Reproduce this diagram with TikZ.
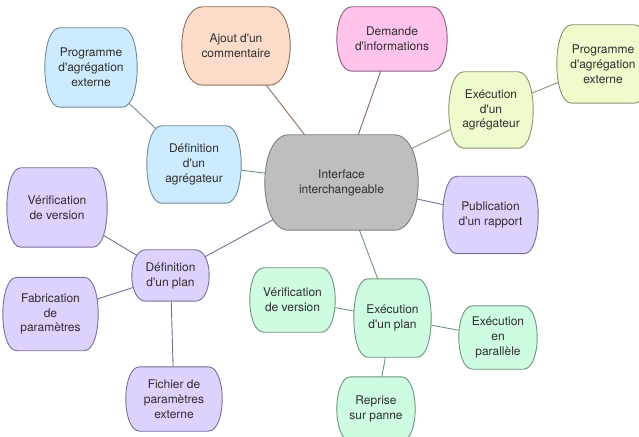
\documentclass[tikz,border=0pt]{standalone}
\usepackage{fontspec}
\setmainfont{TeX Gyre Heros}[Ligatures=TeXOff]
\usetikzlibrary{calc}

\definecolor{texte}{HTML}{2E2E2E}
\definecolor{grisFond}{HTML}{BEBEBE}
\definecolor{grisBord}{HTML}{7E7E7E}
\definecolor{pecheFond}{HTML}{FDDDC9}
\definecolor{pecheBord}{HTML}{8F6E5E}
\definecolor{roseFond}{HTML}{FFC3EC}
\definecolor{roseBord}{HTML}{8A5F7D}
\definecolor{bleuFond}{HTML}{CDEBFE}
\definecolor{bleuBord}{HTML}{6E8B9A}
\definecolor{citronFond}{HTML}{EEFBCD}
\definecolor{citronBord}{HTML}{8E9370}
\definecolor{violetFond}{HTML}{DDD1FE}
\definecolor{violetBord}{HTML}{76709A}
\definecolor{vertFond}{HTML}{CDFCE0}
\definecolor{vertBord}{HTML}{6E9580}

\pgfdeclarelayer{liens}
\pgfdeclarelayer{fond}
\pgfsetlayers{liens,fond,main}

\tikzset{
    % #1 fill, #2 border, #3 corner radius
    bulle/.style n args={3}{inner sep=0pt, align=center, text=texte,
        font=\fontsize{12}{15}\selectfont,
        append after command={\pgfextra{%
            \begin{pgfonlayer}{fond}
            \path[draw=#2, fill=#1, line width=0.9bp]
                ($(\tikzlastnode.north west)+(#3,0)$)
                -- ($(\tikzlastnode.north east)+(-#3,0)$)
                .. controls ($(\tikzlastnode.north east)+(#3/3,0)$)
                and ($(\tikzlastnode.south east)+(#3/3,0)$)
                .. ($(\tikzlastnode.south east)+(-#3,0)$)
                -- ($(\tikzlastnode.south west)+(#3,0)$)
                .. controls ($(\tikzlastnode.south west)+(-#3/3,0)$)
                and ($(\tikzlastnode.north west)+(-#3/3,0)$)
                .. ($(\tikzlastnode.north west)+(#3,0)$) -- cycle;
            \end{pgfonlayer}}}},
    gris/.style={bulle={grisFond}{grisBord}{24bp}},
    peche/.style={bulle={pecheFond}{pecheBord}{21bp}},
    rose/.style={bulle={roseFond}{roseBord}{15bp}},
    bleu/.style={bulle={bleuFond}{bleuBord}{15bp}},
    citron/.style={bulle={citronFond}{citronBord}{15bp}},
    violet/.style={bulle={violetFond}{violetBord}{14bp}},
    vert/.style={bulle={vertFond}{vertBord}{14bp}},
    lien/.style={line width=0.9bp}
}

\begin{document}
\begin{tikzpicture}[x=1bp,y=-1bp]
    \useasboundingbox (0,0) rectangle (639,437);

    % The centre node
    \node[gris, minimum width=153bp, minimum height=95bp] (inter) at (341.5,182.5)
        {Interface\\interchangeable};

    % The nodes at the top
    \node[peche, minimum width=108bp, minimum height=78bp] (ajout) at (236,46)
        {Ajout d'un\\commentaire};
    \node[rose, minimum width=110bp, minimum height=64bp] (demande) at (392,39)
        {Demande\\d'informations};

    % The aggregators
    \node[bleu, minimum width=94bp, minimum height=77bp] (defAgr) at (194,164.5)
        {Définition\\d'un\\agrégateur};
    \node[bleu, minimum width=92bp, minimum height=79bp] (progG) at (91,67.5)
        {Programme\\d'agrégation\\externe};
    \node[citron, minimum width=84bp, minimum height=76bp] (execAgr) at (491,110)
        {Exécution\\d'un\\agrégateur};
    \node[citron, minimum width=92bp, minimum height=78bp] (progD) at (603,64)
        {Programme\\d'agrégation\\externe};

    % The report
    \node[violet, minimum width=95bp, minimum height=77bp] (publi) at (490.5,215)
        {Publication\\d'un rapport};

    % The plan definition and its children
    \node[violet, minimum width=77bp, minimum height=51bp] (defPlan) at (170.5,275.5)
        {Définition\\d'un plan};
    \node[violet, minimum width=100bp, minimum height=79bp] (verifV) at (57,207.5)
        {Vérification\\de version};
    \node[violet, minimum width=95bp, minimum height=73bp] (fabric) at (50.5,314)
        {Fabrication\\de\\paramètres};
    \node[violet, minimum width=96bp, minimum height=64bp] (fichier) at (174,399)
        {Fichier de\\paramètres\\externe};

    % The plan execution and its children
    \node[vert, minimum width=77bp, minimum height=78bp] (execPlan) at (392.5,318)
        {Exécution\\d'un plan};
    \node[vert, minimum width=85bp, minimum height=64bp] (verifE) at (292.5,300)
        {Vérification\\de version};
    \node[vert, minimum width=78bp, minimum height=63bp] (para) at (498,337.5)
        {Exécution\\en\\parallèle};
    \node[vert, minimum width=78bp, minimum height=64bp] (reprise) at (376,409)
        {Reprise\\sur panne};

    % The edges
    \begin{pgfonlayer}{liens}
        \draw[lien, pecheBord] (inter.center) -- (ajout.center);
        \draw[lien, roseBord] (inter.center) -- (demande.center);
        \draw[lien, bleuBord] (inter.center) -- (defAgr.center);
        \draw[lien, bleuBord] (defAgr.center) -- (progG.center);
        \draw[lien, citronBord] (inter.center) -- (execAgr.center);
        \draw[lien, citronBord] (execAgr.center) -- (progD.center);
        \draw[lien, violetBord] (inter.center) -- (publi.center);
        \draw[lien, violetBord] (inter.center) -- (defPlan.center);
        \draw[lien, violetBord] (defPlan.center) -- (verifV.center);
        \draw[lien, violetBord] (defPlan.center) -- (fabric.center);
        \draw[lien, violetBord] (defPlan.center) -- (fichier.center);
        \draw[lien, vertBord] (inter.center) -- (execPlan.center);
        \draw[lien, vertBord] (execPlan.center) -- (verifE.center);
        \draw[lien, vertBord] (execPlan.center) -- (para.center);
        \draw[lien, vertBord] (execPlan.center) -- (reprise.center);
    \end{pgfonlayer}

\end{tikzpicture}
\end{document}
